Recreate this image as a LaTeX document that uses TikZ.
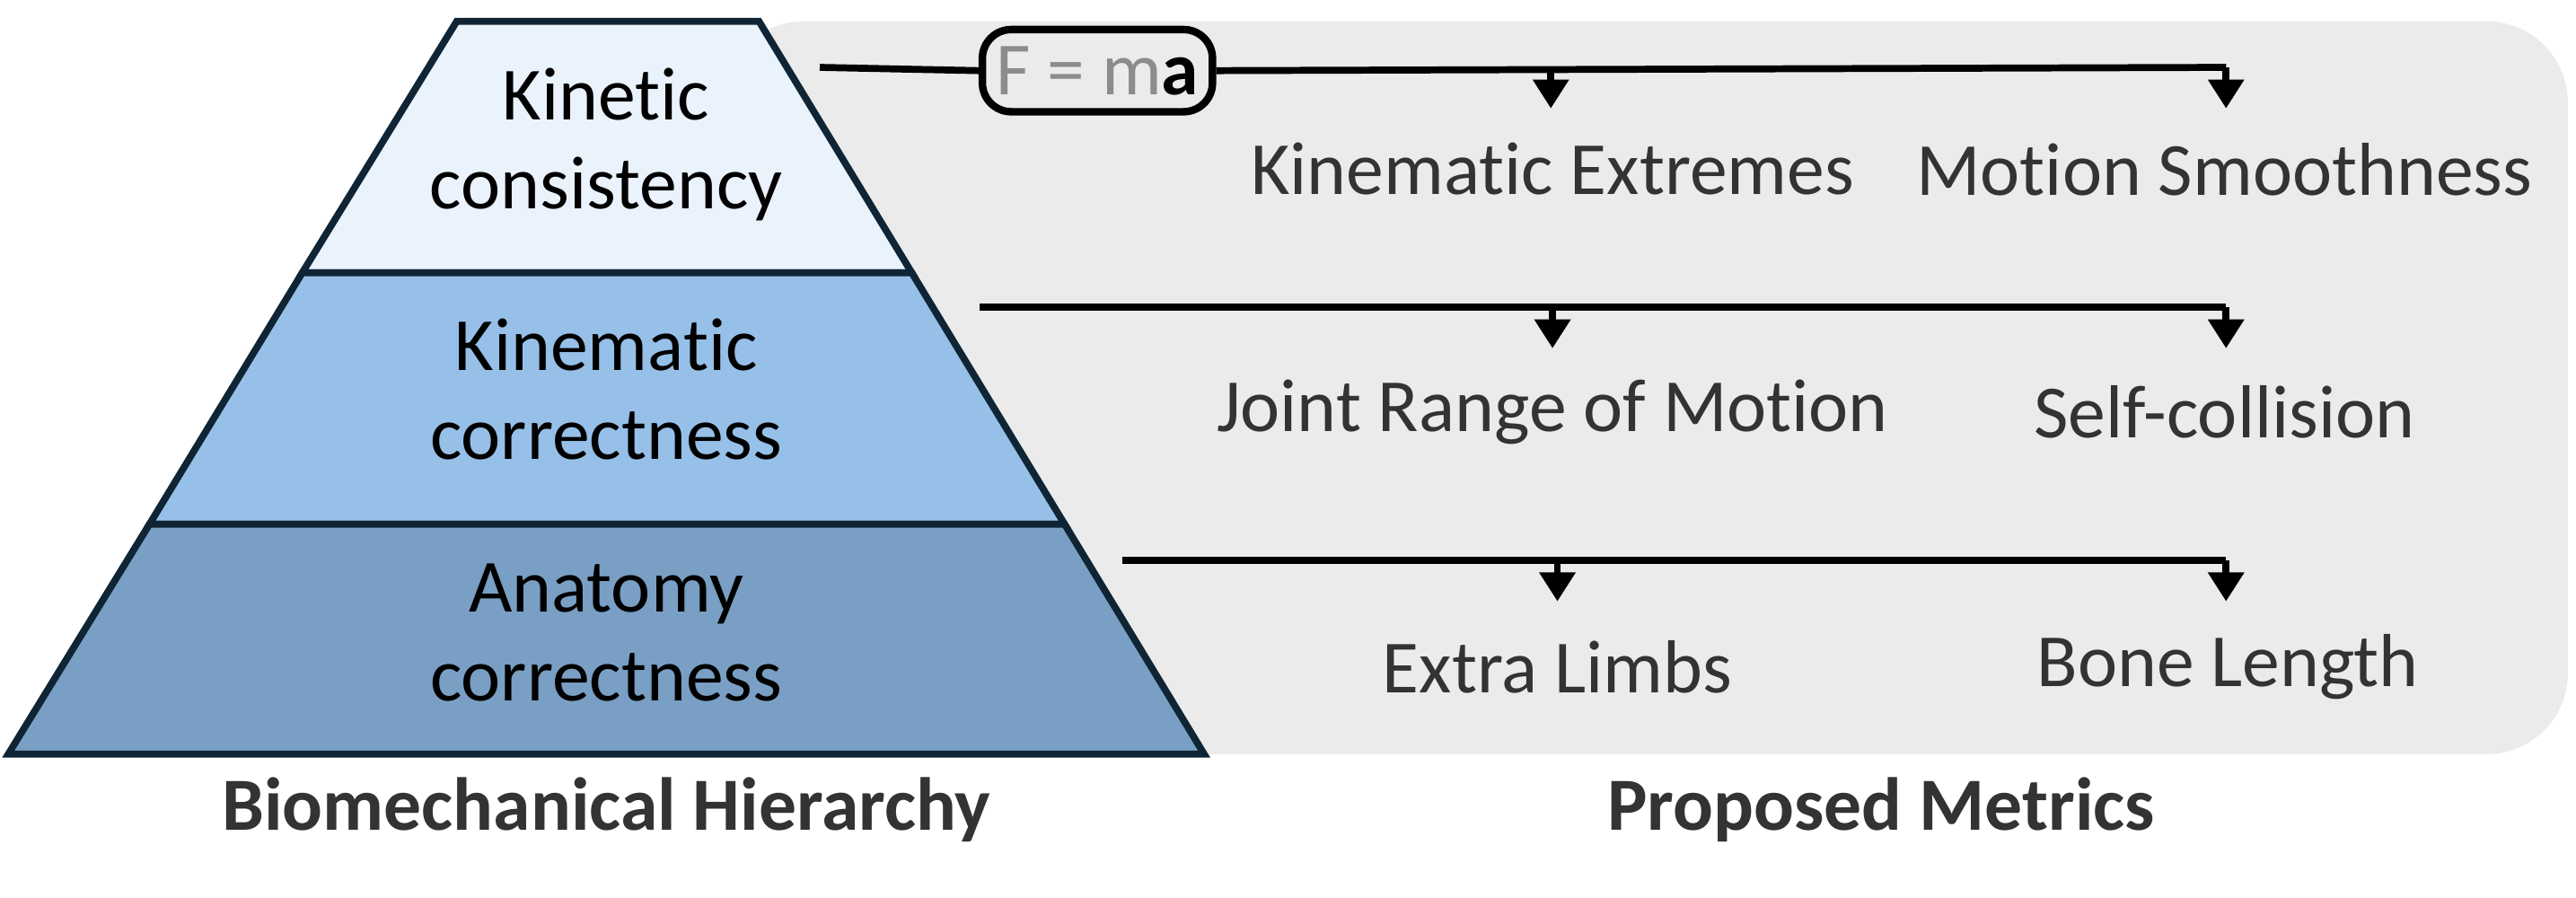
\documentclass[tikz,border=0pt]{standalone}
\usetikzlibrary{arrows.meta}
\usepackage{fontspec}
\setmainfont[Ligatures=NoCommon]{Carlito}
\begin{document}
\begin{tikzpicture}[x=0.01cm,y=-0.01cm,
  lbl/.style={align=center,font=\fontsize{13}{15.5}\selectfont,text=black},
  met/.style={font=\fontsize{13}{15.5}\selectfont,text=black!80},
  ttl/.style={font=\fontsize{13}{15.5}\selectfont\bfseries,text=black!80},
  bar/.style={line width=1.2pt},
  arr/.style={line width=1.2pt,-{Triangle[length=5pt,width=6pt]}}]
\useasboundingbox (0,0) rectangle (1568,546);
\definecolor{c1}{HTML}{EAF2FB}\definecolor{c2}{HTML}{97C0E8}\definecolor{c3}{HTML}{7A9FC4}\definecolor{ol}{HTML}{0F2535}
\fill[black!8,rounded corners=14] (440,13) rectangle (1563,459);
\filldraw[fill=c1,draw=ol,line width=1.2pt] (278,13) -- (462,13) -- (555,166) -- (184,166) -- cycle;
\filldraw[fill=c2,draw=ol,line width=1.2pt] (184,166) -- (555,166) -- (648,319) -- (91,319) -- cycle;
\filldraw[fill=c3,draw=ol,line width=1.2pt] (91,319) -- (648,319) -- (733,459) -- (5,459) -- cycle;
\node[lbl] (t1) at (369,88) {Kinetic\\consistency};
\node[lbl] (t2) at (369,237) {Kinematic\\correctness};
\node[lbl] (t3) at (369,385) {Anatomy\\correctness};
\node[ttl] (b1) at (369,493) {Biomechanical Hierarchy};
\node[ttl] (b2) at (1145,493) {Proposed Metrics};
% row 1
\coordinate (s1) at (499,41); \coordinate (e1) at (1355,41); \coordinate (m1) at (944,41);
\node[draw,line width=1.3pt,rounded corners=5,minimum width=1.4cm,minimum height=0.5cm,inner sep=2pt,font=\fontsize{13}{15}\selectfont] (f) at (668,43) {\textcolor{black!45}{F = m}\textbf{a}};
\draw[bar] (s1) -- (f.west);
\draw[bar] (f.east) -- (e1);
\node[met] (k1) at (945,103) {Kinematic Extremes};
\node[met] (k2) at (1354,103) {Motion Smoothness};
\draw[arr] (m1) -- (944,66);
\draw[arr] (e1) -- (1355,66);
% row 2
\coordinate (s2) at (596,187); \coordinate (e2) at (1355,187); \coordinate (m2) at (945,187);
\draw[bar] (s2) -- (e2);
\draw[arr] (m2) -- (945,212);
\draw[arr] (e2) -- (1355,212);
\node[met] (k3) at (945,251) {Joint Range of Motion};
\node[met] (k4) at (1354,251) {Self-collision};
% row 3
\coordinate (s3) at (683,341); \coordinate (e3) at (1355,341); \coordinate (m3) at (948,341);
\draw[bar] (s3) -- (e3);
\draw[arr] (m3) -- (948,366);
\draw[arr] (e3) -- (1355,366);
\node[met] (k5) at (948,406) {Extra Limbs};
\node[met] (k6) at (1356,406) {Bone Length};
\end{tikzpicture}
\end{document}
